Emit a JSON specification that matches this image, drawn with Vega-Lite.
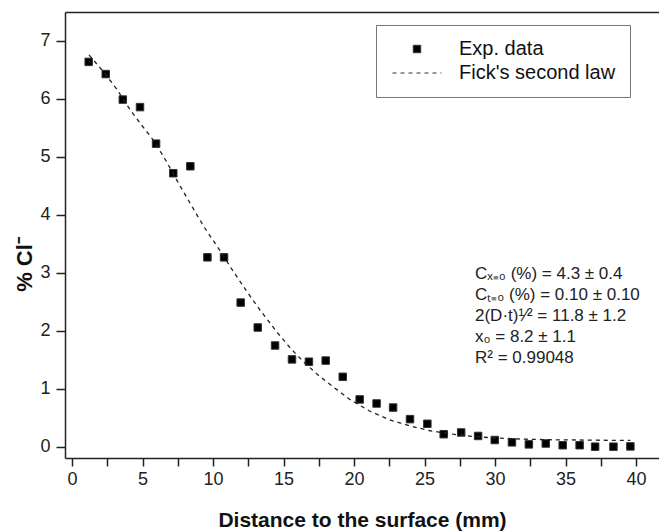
{
  "$schema": "https://vega.github.io/schema/vega-lite/v6.json",
  "width": 594,
  "height": 446,
  "autosize": "none",
  "padding": {"left": 65, "top": 12, "right": 0, "bottom": 74},
  "background": "white",
  "config": {"view": {"stroke": null}, "font": "Liberation Sans"},
  "datasets": {
    "points": [
      {"x": 1.18, "y": 6.64, "series": "Exp. data"},
      {"x": 2.39, "y": 6.43, "series": "Exp. data"},
      {"x": 3.6, "y": 5.99, "series": "Exp. data"},
      {"x": 4.82, "y": 5.86, "series": "Exp. data"},
      {"x": 5.96, "y": 5.23, "series": "Exp. data"},
      {"x": 7.18, "y": 4.72, "series": "Exp. data"},
      {"x": 8.39, "y": 4.84, "series": "Exp. data"},
      {"x": 9.6, "y": 3.27, "series": "Exp. data"},
      {"x": 10.78, "y": 3.27, "series": "Exp. data"},
      {"x": 11.96, "y": 2.49, "series": "Exp. data"},
      {"x": 13.17, "y": 2.06, "series": "Exp. data"},
      {"x": 14.4, "y": 1.75, "series": "Exp. data"},
      {"x": 15.6, "y": 1.51, "series": "Exp. data"},
      {"x": 16.8, "y": 1.47, "series": "Exp. data"},
      {"x": 17.99, "y": 1.49, "series": "Exp. data"},
      {"x": 19.2, "y": 1.21, "series": "Exp. data"},
      {"x": 20.4, "y": 0.82, "series": "Exp. data"},
      {"x": 21.6, "y": 0.75, "series": "Exp. data"},
      {"x": 22.77, "y": 0.68, "series": "Exp. data"},
      {"x": 23.97, "y": 0.48, "series": "Exp. data"},
      {"x": 25.2, "y": 0.4, "series": "Exp. data"},
      {"x": 26.36, "y": 0.22, "series": "Exp. data"},
      {"x": 27.6, "y": 0.25, "series": "Exp. data"},
      {"x": 28.8, "y": 0.19, "series": "Exp. data"},
      {"x": 29.98, "y": 0.12, "series": "Exp. data"},
      {"x": 31.2, "y": 0.08, "series": "Exp. data"},
      {"x": 32.4, "y": 0.045, "series": "Exp. data"},
      {"x": 33.6, "y": 0.06, "series": "Exp. data"},
      {"x": 34.8, "y": 0.03, "series": "Exp. data"},
      {"x": 36.0, "y": 0.03, "series": "Exp. data"},
      {"x": 37.1, "y": 0.005, "series": "Exp. data"},
      {"x": 38.4, "y": 0.005, "series": "Exp. data"},
      {"x": 39.6, "y": 0.01, "series": "Exp. data"}
    ],
    "fit": [
      {"x": 1.2, "y": 6.76, "series": "Fick's second law"},
      {"x": 2.3, "y": 6.45, "series": "Fick's second law"},
      {"x": 3.2, "y": 6.16, "series": "Fick's second law"},
      {"x": 4.1, "y": 5.82, "series": "Fick's second law"},
      {"x": 5.0, "y": 5.53, "series": "Fick's second law"},
      {"x": 5.8, "y": 5.28, "series": "Fick's second law"},
      {"x": 6.7, "y": 4.92, "series": "Fick's second law"},
      {"x": 7.5, "y": 4.57, "series": "Fick's second law"},
      {"x": 8.5, "y": 4.15, "series": "Fick's second law"},
      {"x": 9.4, "y": 3.78, "series": "Fick's second law"},
      {"x": 10.4, "y": 3.42, "series": "Fick's second law"},
      {"x": 11.4, "y": 3.04, "series": "Fick's second law"},
      {"x": 12.4, "y": 2.68, "series": "Fick's second law"},
      {"x": 13.4, "y": 2.34, "series": "Fick's second law"},
      {"x": 14.5, "y": 1.99, "series": "Fick's second law"},
      {"x": 15.5, "y": 1.7, "series": "Fick's second law"},
      {"x": 16.5, "y": 1.45, "series": "Fick's second law"},
      {"x": 17.5, "y": 1.23, "series": "Fick's second law"},
      {"x": 18.5, "y": 1.04, "series": "Fick's second law"},
      {"x": 19.7, "y": 0.82, "series": "Fick's second law"},
      {"x": 21.1, "y": 0.62, "series": "Fick's second law"},
      {"x": 22.5, "y": 0.47, "series": "Fick's second law"},
      {"x": 24.0, "y": 0.36, "series": "Fick's second law"},
      {"x": 25.4, "y": 0.28, "series": "Fick's second law"},
      {"x": 27.0, "y": 0.22, "series": "Fick's second law"},
      {"x": 28.5, "y": 0.18, "series": "Fick's second law"},
      {"x": 30.0, "y": 0.155, "series": "Fick's second law"},
      {"x": 32.0, "y": 0.135, "series": "Fick's second law"},
      {"x": 34.0, "y": 0.125, "series": "Fick's second law"},
      {"x": 36.0, "y": 0.12, "series": "Fick's second law"},
      {"x": 38.0, "y": 0.115, "series": "Fick's second law"},
      {"x": 39.6, "y": 0.115, "series": "Fick's second law"}
    ]
  },
  "layer": [
    {
      "data": {"name": "points"},
      "mark": {"type": "point", "filled": true, "fill": "#000", "stroke": "#333", "strokeWidth": 1, "opacity": 1},
      "encoding": {
        "x": {
          "field": "x", "type": "quantitative",
          "scale": {"domain": [-0.5, 41.63], "nice": false, "zero": false},
          "axis": {
            "values": [0, 2.5, 5, 7.5, 10, 12.5, 15, 17.5, 20, 22.5, 25, 27.5, 30, 32.5, 35, 37.5, 40],
            "format": "~g",
            "labelExpr": "datum.value % 5 === 0 ? datum.label : ''",
            "ticks": true, "tickSize": 8,
            "encode": {"ticks": {"update": {"y2": {"signal": "datum.value % 5 === 0 ? 8 : 4"}}}},
            "labelFontSize": 18, "labelColor": "#222", "labelPadding": 4,
            "domainColor": "#222", "domainWidth": 1.5, "tickColor": "#222", "tickWidth": 1.5,
            "grid": false, "labelOverlap": false, "labelFlush": false,
            "title": "Distance to the surface (mm)", "titleFontSize": 21, "titleFontWeight": "bold",
            "titleColor": "#111", "titleY": 62, "titleBaseline": "middle"
          }
        },
        "y": {
          "field": "y", "type": "quantitative",
          "scale": {"domain": [-0.19, 7.5], "nice": false, "zero": false},
          "axis": {
            "values": [0, 0.5, 1, 1.5, 2, 2.5, 3, 3.5, 4, 4.5, 5, 5.5, 6, 6.5, 7],
            "format": "~g",
            "labelExpr": "datum.value % 1 === 0 ? datum.label : ''",
            "ticks": true, "tickSize": 9,
            "encode": {"ticks": {"update": {"x2": {"signal": "datum.value % 1 === 0 ? -9 : -5"}}}},
            "labelFontSize": 18, "labelColor": "#222", "labelPadding": 6,
            "domainColor": "#222", "domainWidth": 1.5, "tickColor": "#222", "tickWidth": 1.5,
            "grid": false, "labelOverlap": false, "labelFlush": false,
            "title": "% Cl⁻", "titleFontSize": 22, "titleFontWeight": "bold", "titleColor": "#111",
            "titleX": -41, "titleY": 252, "titleBaseline": "middle"
          }
        },
        "shape": {
          "field": "series", "type": "nominal",
          "scale": {"domain": ["Exp. data", "Fick's second law"], "range": ["square", "stroke"]},
          "legend": {
            "orient": "none", "legendX": 311, "legendY": 13, "title": null,
            "labelFontSize": 20, "labelFont": "Liberation Sans", "labelColor": "#111",
            "strokeColor": "#777", "fillColor": "white", "padding": 14, "clipHeight": 20,
            "symbolOffset": 2, "labelOffset": 17, "rowPadding": 4, "symbolStrokeWidth": 1
          }
        },
        "size": {
          "field": "series", "type": "nominal",
          "scale": {"domain": ["Exp. data", "Fick's second law"], "range": [56, 2400]},
          "legend": {
            "orient": "none", "legendX": 311, "legendY": 13, "title": null,
            "labelFontSize": 20, "labelFont": "Liberation Sans", "labelColor": "#111",
            "strokeColor": "#777", "fillColor": "white", "padding": 14, "clipHeight": 20,
            "symbolOffset": 2, "labelOffset": 17, "rowPadding": 4, "symbolStrokeWidth": 1
          }
        }
      }
    },
    {
      "data": {"name": "fit"},
      "mark": {"type": "line", "color": "#222", "strokeWidth": 1.3},
      "encoding": {
        "x": {"field": "x", "type": "quantitative", "axis": null},
        "y": {"field": "y", "type": "quantitative"},
        "strokeDash": {
          "field": "series", "type": "nominal",
          "scale": {"domain": ["Exp. data", "Fick's second law"], "range": [[1, 0], [4, 4]]},
          "legend": {
            "orient": "none", "legendX": 311, "legendY": 13, "title": null,
            "labelFontSize": 20, "labelFont": "Liberation Sans", "labelColor": "#111",
            "strokeColor": "#777", "fillColor": "white", "padding": 14, "clipHeight": 20,
            "symbolOffset": 2, "labelOffset": 17, "rowPadding": 4, "symbolStrokeWidth": 1
          }
        }
      }
    },
    {
      "data": {"values": [{}]},
      "mark": {
        "type": "text", "align": "left", "baseline": "top", "fontSize": 17, "lineHeight": 21,
        "color": "#222", "font": "Liberation Sans",
        "text": ["Cₓ₌₀ (%) = 4.3 ± 0.4", "Cₜ₌₀ (%) = 0.10 ± 0.10", "2(D·t)¹⁄² = 11.8 ± 1.2", "x₀ = 8.2 ± 1.1", "R² = 0.99048"]
      },
      "encoding": {
        "x": {"datum": 28.58, "type": "quantitative", "axis": null},
        "y": {"datum": 3.12, "type": "quantitative"}
      }
    },
    {
      "data": {"name": "fit"},
      "mark": {"type": "point", "opacity": 0},
      "encoding": {
        "x": {
          "field": "x", "type": "quantitative",
          "axis": {"orient": "top", "labels": false, "ticks": false, "title": null, "grid": false,
                   "domainColor": "#222", "domainWidth": 1.5}
        }
      }
    }
  ],
  "resolve": {"axis": {"x": "independent"}}
}
